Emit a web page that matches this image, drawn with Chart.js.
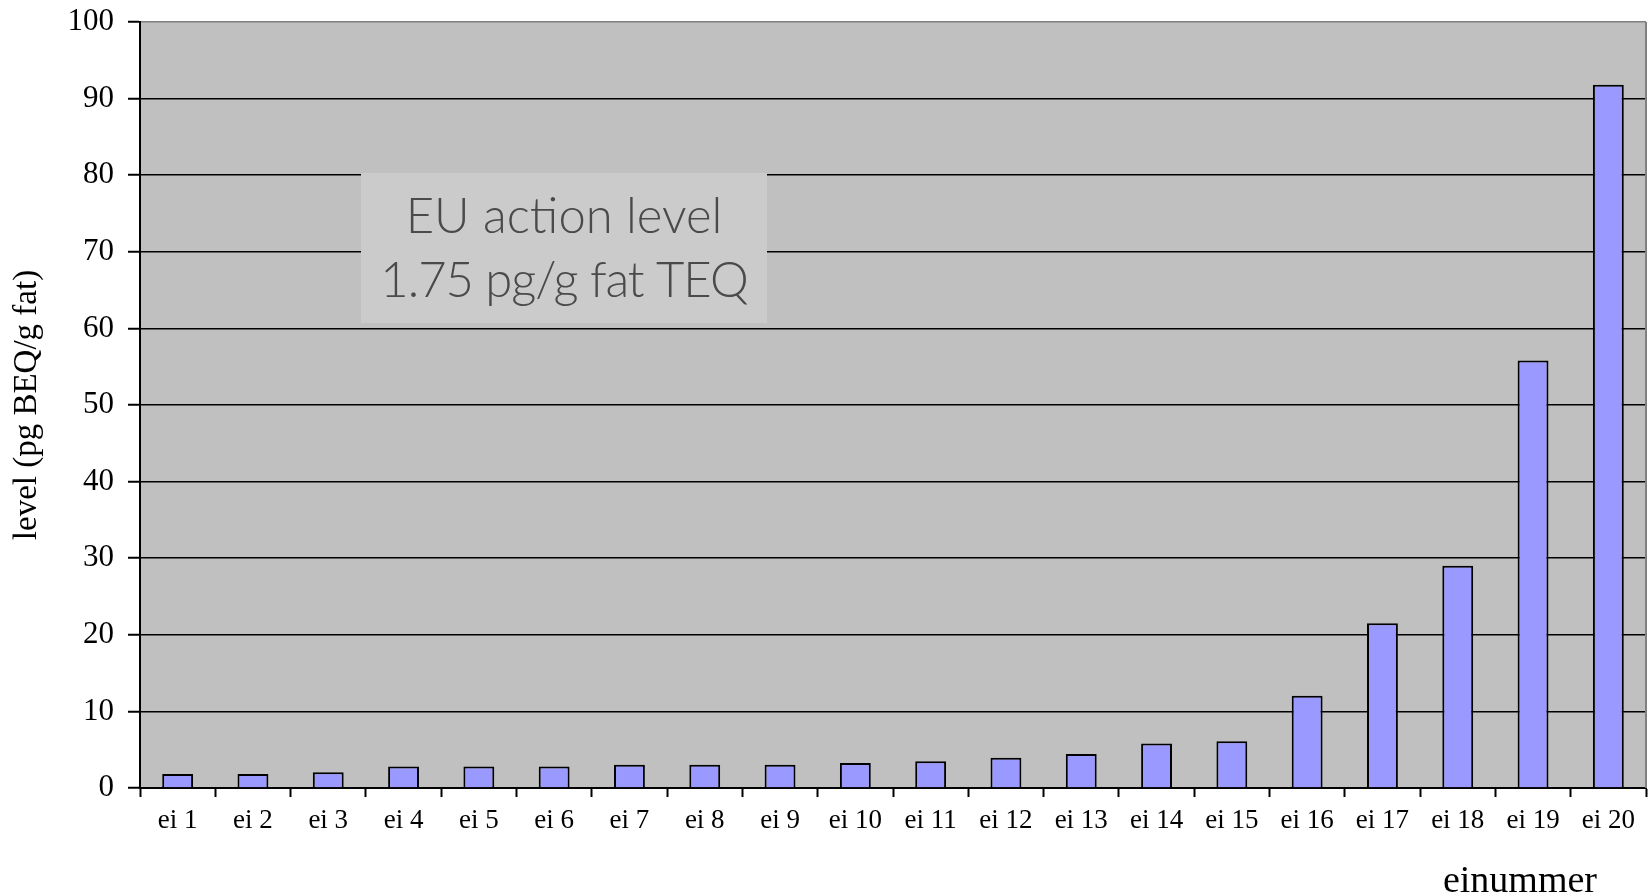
<!DOCTYPE html>
<html>
<head>
<meta charset="utf-8">
<title>einummer</title>
<script src="https://cdn.jsdelivr.net/npm/chart.js@4.4.1/dist/chart.umd.min.js"></script>
<style>
  html, body { margin: 0; padding: 0; background: #ffffff; }
  #chart { display: block; }
</style>
</head>
<body>
<canvas id="chart" width="1650" height="896"></canvas>
<script>
const eggs = ["ei 1", "ei 2", "ei 3", "ei 4", "ei 5", "ei 6", "ei 7", "ei 8", "ei 9", "ei 10",
  "ei 11", "ei 12", "ei 13", "ei 14", "ei 15", "ei 16", "ei 17", "ei 18", "ei 19", "ei 20"];
const levels = [1.83, 1.83, 2.05, 2.8, 2.8, 2.8, 3.05, 3.05, 3.05, 3.25,
  3.5, 3.95, 4.45, 5.8, 6.1, 12.05, 21.5, 29.0, 55.8, 91.8];
const yMin = 0;
const yMax = 100;
const yStep = 10;
const noteLines = ["EU action level", "1.75 pg/g fat TEQ"];

const serif = "'Liberation Serif', 'Times New Roman', serif";

// grey plot area, light note box, grey right frame, x-axis title
const plotDecor = {
  id: "plotDecor",
  beforeDraw(chart) {
    const { ctx, chartArea: a } = chart;
    ctx.save();
    ctx.fillStyle = "#c0c0c0";
    ctx.fillRect(a.left, a.top, a.right - a.left, a.bottom - a.top);
    ctx.restore();
  },
  beforeDatasetsDraw(chart) {
    const { ctx, chartArea: a } = chart;
    const x = a.left + 221, y = a.top + 151, w = 406, h = 150;
    ctx.save();
    ctx.fillStyle = "#cbcbcb";
    ctx.fillRect(x, y, w, h);
    ctx.fillStyle = "#4a4a4a";
    ctx.font = "300 49px Lato, 'Open Sans', sans-serif";
    ctx.textAlign = "center";
    ctx.textBaseline = "alphabetic";
    ctx.fillText(noteLines[0], x + w / 2, y + 60);
    ctx.letterSpacing = "-1px";
    ctx.fillText(noteLines[1], x + w / 2, y + 124);
    ctx.restore();
  },
  afterDraw(chart) {
    const { ctx, chartArea: a } = chart;
    ctx.save();
    ctx.strokeStyle = "#808080";
    ctx.lineWidth = 2;
    ctx.beginPath();
    ctx.moveTo(a.right, a.top);
    ctx.lineTo(a.right, a.bottom);
    ctx.stroke();
    ctx.fillStyle = "#000000";
    ctx.font = "38px " + serif;
    ctx.textAlign = "right";
    ctx.textBaseline = "alphabetic";
    ctx.fillText("einummer", a.right - 49, 892);
    ctx.restore();
  }
};

new Chart(document.getElementById("chart"), {
  type: "bar",
  data: {
    labels: eggs,
    datasets: [{
      data: levels,
      backgroundColor: "#9999ff",
      borderColor: "#000000",
      borderWidth: 2,
      barPercentage: 0.41,
      categoryPercentage: 1.0
    }]
  },
  options: {
    responsive: false,
    devicePixelRatio: 1,
    animation: false,
    layout: { padding: { top: 22, right: 4, left: 0, bottom: 0 } },
    plugins: {
      legend: { display: false },
      tooltip: { enabled: false }
    },
    scales: {
      x: {
        grid: {
          offset: true,
          drawOnChartArea: false,
          drawTicks: true,
          tickLength: 9,
          tickColor: "#000000",
          tickWidth: 2
        },
        border: { color: "#000000", width: 2 },
        ticks: {
          color: "#000000",
          font: { family: serif, size: 27 },
          padding: 8,
          maxRotation: 0,
          autoSkip: false
        },
        afterFit(scale) { scale.height = 108; }
      },
      y: {
        min: yMin,
        max: yMax,
        grid: {
          color: (c) => (c.tick && c.tick.value === yMax ? "#808080" : "#000000"),
          lineWidth: 1.5,
          tickLength: 12,
          tickColor: "#000000",
          tickWidth: 2
        },
        border: { color: "#000000", width: 2 },
        ticks: {
          stepSize: yStep,
          color: "#000000",
          font: { family: serif, size: 31 },
          padding: 14
        },
        title: {
          display: true,
          text: "level (pg BEQ/g fat)",
          color: "#000000",
          font: { family: serif, size: 33 },
          padding: { top: 8, bottom: 0 }
        },
        afterFit(scale) {
          scale.width = 140;
          // the label padding would push the plot top down; layout padding handles it
          scale.paddingTop = 0;
        }
      }
    }
  },
  plugins: [plotDecor]
});
</script>
</body>
</html>
